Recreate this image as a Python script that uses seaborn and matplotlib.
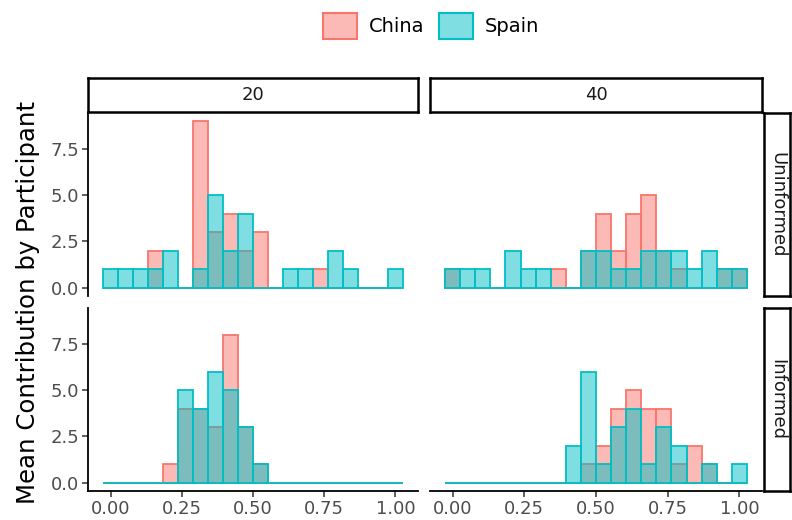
import numpy as np
import pandas as pd
import matplotlib
matplotlib.use("Agg")
import matplotlib.pyplot as plt
import seaborn as sns
from matplotlib.colors import to_rgba
from matplotlib.patches import Patch

# ---------------- data ----------------
countries = ["China", "Spain"]
group_sizes = ["20", "40"]
conditions = ["Uninformed", "Informed"]
n_bins = 20
x_ticks = [0.0, 0.25, 0.5, 0.75, 1.0]
x_tick_labels = ["0.00", "0.25", "0.50", "0.75", "1.00"]
y_ticks = [0.0, 2.5, 5.0, 7.5]
y_tick_labels = ["0.0", "2.5", "5.0", "7.5"]

# counts per bin (bins centred on 0, 1/19, ..., 1)
china_20_uninformed = [0, 0, 0, 2, 0, 0, 9, 3, 4, 2, 3, 0, 0, 0, 1, 0, 0, 0, 0, 0]
spain_20_uninformed = [1, 1, 1, 1, 2, 0, 1, 5, 2, 4, 0, 0, 1, 1, 0, 2, 1, 0, 0, 1]
china_40_uninformed = [1, 0, 0, 0, 0, 0, 0, 1, 0, 2, 4, 2, 4, 5, 2, 1, 0, 0, 1, 1]
spain_40_uninformed = [1, 1, 1, 0, 2, 1, 1, 0, 0, 2, 2, 1, 1, 2, 2, 2, 1, 2, 1, 1]
china_20_informed = [0, 0, 0, 0, 1, 4, 4, 3, 8, 3, 1, 0, 0, 0, 0, 0, 0, 0, 0, 0]
spain_20_informed = [0, 0, 0, 0, 0, 5, 4, 6, 5, 3, 1, 0, 0, 0, 0, 0, 0, 0, 0, 0]
china_40_informed = [0, 0, 0, 0, 0, 0, 0, 0, 0, 1, 2, 4, 5, 4, 4, 1, 2, 1, 0, 0]
spain_40_informed = [0, 0, 0, 0, 0, 0, 0, 0, 2, 6, 1, 3, 4, 1, 3, 2, 0, 1, 0, 1]

palette = {"China": "#F8766D", "Spain": "#00BFC4"}

bin_width = 1.0 / (n_bins - 1)
bin_centers = np.arange(n_bins) * bin_width
bin_edges = np.concatenate([bin_centers - bin_width / 2, [bin_centers[-1] + bin_width / 2]])

rows = []
panel_data = {
    ("20", "Uninformed"): (china_20_uninformed, spain_20_uninformed),
    ("40", "Uninformed"): (china_40_uninformed, spain_40_uninformed),
    ("20", "Informed"): (china_20_informed, spain_20_informed),
    ("40", "Informed"): (china_40_informed, spain_40_informed),
}
for (g, c), (ch, sp) in panel_data.items():
    for country, counts in (("China", ch), ("Spain", sp)):
        for xc, n in zip(bin_centers, counts):
            rows.append(dict(group=g, condition=c, country=country, value=float(xc), n=float(n)))
df = pd.DataFrame(rows)

# ---------------- figure ----------------
W, H = 792, 520
fig = plt.figure(figsize=(W / 100, H / 100), dpi=100)

def rect(x0, y0, x1, y1):
    return [x0 / W, 1 - y1 / H, (x1 - x0) / W, (y1 - y0) / H]

col_x = {"20": (88, 418), "40": (430, 762)}
row_y = {"Uninformed": (113, 296), "Informed": (308, 491)}

tick_color = "#4D4D4D"
tick_fs = 13

for ci, g in enumerate(group_sizes):
    for ri, c in enumerate(conditions):
        x0, x1 = col_x[g]
        y0, y1 = row_y[c]
        ax = fig.add_axes(rect(x0, y0, x1, y1))
        sub = df[(df.group == g) & (df.condition == c)]
        for country in countries:
            d = sub[sub.country == country].reset_index(drop=True)
            col = palette[country]
            sns.histplot(data=d, x="value", weights="n", bins=list(bin_edges), ax=ax,
                         facecolor=to_rgba(col, 0.5), edgecolor=col,
                         linewidth=1.3, stat="count")
        ax.set_xlim(-0.079, 1.079)
        ax.set_ylim(-0.45, 9.45)
        ax.set_xlabel("")
        ax.set_ylabel("")
        for s in ["top", "right"]:
            ax.spines[s].set_visible(False)
        ax.spines["left"].set_visible(ci == 0)
        ax.spines["bottom"].set_visible(ri == 1)
        for s in ["left", "bottom"]:
            ax.spines[s].set_linewidth(1.3)
            ax.spines[s].set_color("black")
        ax.set_xticks(x_ticks)
        ax.set_xticklabels(x_tick_labels)
        ax.set_yticks(y_ticks)
        ax.set_yticklabels(y_tick_labels)
        ax.tick_params(axis="both", length=4, width=1.1, color="#333333",
                       labelcolor=tick_color, labelsize=tick_fs, pad=2.5)
        ax.tick_params(axis="x", bottom=(ri == 1), labelbottom=(ri == 1))
        ax.tick_params(axis="y", left=(ci == 0), labelleft=(ci == 0))
        ax.patch.set_alpha(0)

# strips
def strip(x0, y0, x1, y1, text, rotation=0):
    sa = fig.add_axes(rect(x0, y0, x1, y1))
    sa.set_xticks([])
    sa.set_yticks([])
    for s in sa.spines.values():
        s.set_linewidth(1.8)
        s.set_color("black")
    sa.text(0.5, 0.5, text, ha="center", va="center", rotation=rotation,
            fontsize=13, color="#1A1A1A", transform=sa.transAxes)

strip(88, 78, 418, 112, "20")
strip(430, 78, 762, 112, "40")
strip(764, 113, 790, 296, "Uninformed", rotation=-90)
strip(764, 308, 790, 491, "Informed", rotation=-90)

fig.text(28 / W, 1 - 302 / H, "Mean Contribution by Participant", rotation=90,
         ha="center", va="center", fontsize=17.6, color="black")

handles = [Patch(facecolor=to_rgba(palette[k], 0.5), edgecolor=palette[k],
                 linewidth=1.5, label=k) for k in countries]
fig.legend(handles=handles, loc="center", bbox_to_anchor=(431 / W, 1 - 26 / H),
           ncol=2, frameon=False, fontsize=14, handlelength=1.75,
           handleheight=1.7, handletextpad=0.62, columnspacing=0.72)

fig.savefig("out.png", dpi=100)
